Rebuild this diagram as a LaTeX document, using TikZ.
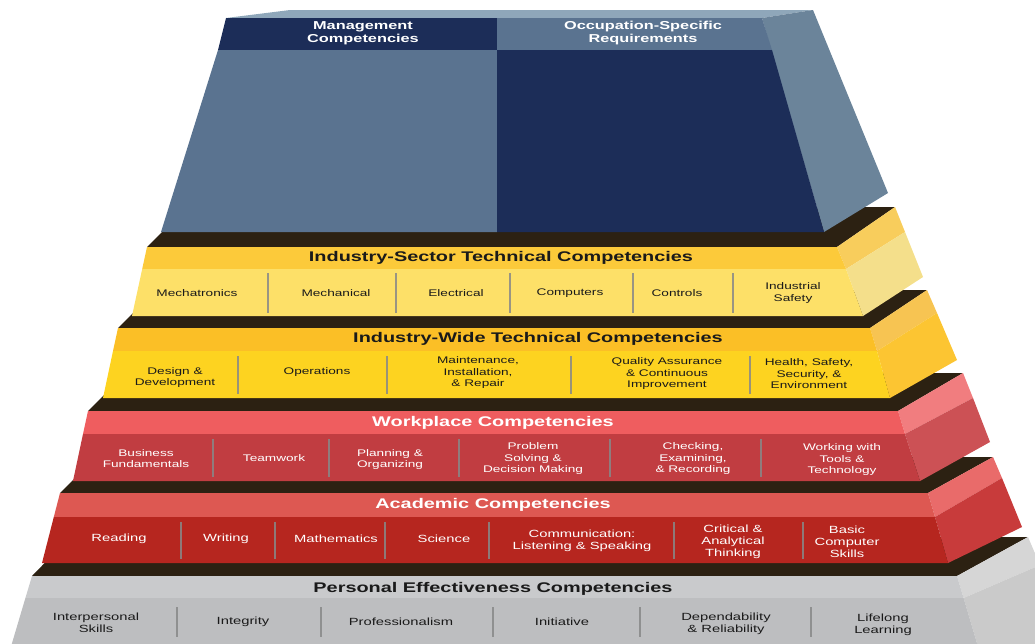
\documentclass[tikz,border=0pt]{standalone}
\usepackage{fontspec}
\newfontfamily\pyr{Liberation Sans}[FakeStretch=1.42]
\definecolor{bnavy}{HTML}{1C2D58}
\definecolor{bsteel}{HTML}{5A7390}
\definecolor{bside}{HTML}{6B849A}
\definecolor{btop}{HTML}{8FA7BA}
\definecolor{darkface}{HTML}{2C2112}
\definecolor{tAh}{HTML}{FCCA3A}\definecolor{tAc}{HTML}{FDE068}\definecolor{tAsu}{HTML}{F8CD5C}\definecolor{tAsl}{HTML}{F4DF8B}
\definecolor{tBh}{HTML}{FBBF26}\definecolor{tBc}{HTML}{FDD320}\definecolor{tBsu}{HTML}{F7C452}\definecolor{tBsl}{HTML}{FCC532}
\definecolor{tCh}{HTML}{EF5D5F}\definecolor{tCc}{HTML}{C13D41}\definecolor{tCsu}{HTML}{F17D7F}\definecolor{tCsl}{HTML}{CC5155}
\definecolor{tDh}{HTML}{DD5852}\definecolor{tDc}{HTML}{B6261F}\definecolor{tDsu}{HTML}{E96B6A}\definecolor{tDsl}{HTML}{C83B3B}
\definecolor{tEh}{HTML}{C9CACC}\definecolor{tEc}{HTML}{BDBEC0}\definecolor{tEsu}{HTML}{D6D6D6}\definecolor{tEsl}{HTML}{CACACA}
\definecolor{divc}{HTML}{888888}
\definecolor{txtdark}{HTML}{1A1A1A}
\begin{document}
\begin{tikzpicture}[x=1pt,y=-1pt,
  hdr/.style={font=\pyr\bfseries\fontsize{14}{16}\selectfont, inner sep=0},
  tophdr/.style={font=\pyr\bfseries\fontsize{11.5}{13}\selectfont, inner sep=0, align=center, text=white},
  itemA/.style={font=\pyr\fontsize{9.6}{11.5}\selectfont, align=center, inner sep=0},
  itemB/.style={font=\pyr\fontsize{10.4}{12.2}\selectfont, align=center, inner sep=0},
  divline/.style={draw=divc, opacity=0.85, line width=1.1pt}]
\useasboundingbox (0,0) rectangle (1035,643);
\clip (0,0) rectangle (1035,643);

% ---------- Tier 5: Personal Effectiveness (gray)
\fill[darkface] (32,576) -- (957,576) -- (1028,537) -- (70,537) -- cycle;
\fill[tEsu] (957,576) -- (1028,537) -- (1040,565) -- (963.6,598) -- cycle;
\fill[tEsl] (963.6,598) -- (1040,565) -- (1080,660) -- (982,660) -- cycle;
\fill[tEh] (32,576) -- (957,576) -- (963.6,598) -- (25.4,598) -- cycle;
\fill[tEc] (25.4,598) -- (963.6,598) -- (982,660) -- (7,660) -- cycle;
\foreach \x in {177,321,493,640,811} \draw[divline] (\x,607) -- (\x,637);
\node[hdr, text=txtdark] (hE) at (493,589) {Personal Effectiveness Competencies};
\node[itemB, text=txtdark] (e1) at (96,622.5) {Interpersonal\\Skills};
\node[itemB, text=txtdark] (e2) at (243,622) {Integrity};
\node[itemB, text=txtdark] (e3) at (401,622) {Professionalism};
\node[itemB, text=txtdark] (e4) at (562,622) {Initiative};
\node[itemB, text=txtdark] (e5) at (726,624) {Dependability\\\& Reliability};
\node[itemB, text=txtdark] (e6) at (883,625) {Lifelong\\Learning};

% ---------- Tier 4: Academic (dark red)
\fill[darkface] (60,493) -- (928,493) -- (993,457) -- (96,457) -- cycle;
\fill[tDsu] (928,493) -- (993,457) -- (1002,478) -- (935,517) -- cycle;
\fill[tDsl] (935,517) -- (1002,478) -- (1022,527) -- (948,563) -- cycle;
\fill[tDh] (60,493) -- (928,493) -- (935,517) -- (53.8,517) -- cycle;
\fill[tDc] (53.8,517) -- (935,517) -- (948,563) -- (42,563) -- cycle;
\foreach \x in {181,275,385,489,674,803} \draw[divline] (\x,522) -- (\x,559);
\node[hdr, text=white] (hD) at (493,505) {Academic Competencies};
\node[itemB, text=white] (d1) at (119,539) {Reading};
\node[itemB, text=white] (d2) at (226,539) {Writing};
\node[itemB, text=white] (d3) at (336,539) {Mathematics};
\node[itemB, text=white] (d4) at (444,539) {Science};
\node[itemB, text=white] (d5) at (582,541) {Communication:\\Listening \& Speaking};
\node[itemB, text=white] (d6) at (733,542) {Critical \&\\Analytical\\Thinking};
\node[itemB, text=white] (d7) at (847,542) {Basic\\Computer\\Skills};

% ---------- Tier 3: Workplace (red)
\fill[darkface] (88,411) -- (898,411) -- (963,373) -- (126,373) -- cycle;
\fill[tCsu] (898,411) -- (963,373) -- (973,398) -- (905,434) -- cycle;
\fill[tCsl] (905,434) -- (973,398) -- (990,442) -- (920,481) -- cycle;
\fill[tCh] (88,411) -- (898,411) -- (905,434) -- (83,434) -- cycle;
\fill[tCc] (83,434) -- (905,434) -- (920,481) -- (73,481) -- cycle;
\foreach \x in {213,329,459,610,761} \draw[divline] (\x,439) -- (\x,477);
\node[hdr, text=white] (hC) at (493,423) {Workplace Competencies};
\node[itemA, text=white] (c1) at (146,458.5) {Business\\Fundamentals};
\node[itemA, text=white] (c2) at (274,458) {Teamwork};
\node[itemA, text=white] (c3) at (390,459.5) {Planning \&\\Organizing};
\node[itemA, text=white] (c4) at (533,459) {Problem\\Solving \&\\Decision Making};
\node[itemA, text=white] (c5) at (693,459) {Checking,\\Examining,\\\& Recording};
\node[itemA, text=white] (c6) at (842,460) {Working with\\Tools \&\\Technology};

% ---------- Tier 2: Industry-Wide (yellow)
\fill[darkface] (118,328) -- (870,328) -- (927,290) -- (156,290) -- cycle;
\fill[tBsu] (870,328) -- (927,290) -- (937,313) -- (877,351) -- cycle;
\fill[tBsl] (877,351) -- (937,313) -- (957,360) -- (890,398) -- cycle;
\fill[tBh] (118,328) -- (870,328) -- (877,351) -- (113,351) -- cycle;
\fill[tBc] (113,351) -- (877,351) -- (890,398) -- (103,398) -- cycle;
\foreach \x in {238,387,571,750} \draw[divline] (\x,356) -- (\x,394);
\node[hdr, text=txtdark] (hB) at (538,339) {Industry-Wide Technical Competencies};
\node[itemA, text=txtdark] (b1) at (175,377.5) {Design \&\\Development};
\node[itemA, text=txtdark] (b2) at (317,372) {Operations};
\node[itemA, text=txtdark] (b3) at (478,373) {Maintenance,\\Installation,\\\& Repair};
\node[itemA, text=txtdark] (b4) at (667,374) {Quality Assurance\\\& Continuous\\Improvement};
\node[itemA, text=txtdark] (b5) at (809,374) {Health, Safety,\\Security, \&\\Environment};

% ---------- Tier 1: Industry-Sector (light yellow)
\fill[darkface] (147,247) -- (837,247) -- (895,207) -- (187,207) -- cycle;
\fill[tAsu] (837,247) -- (895,207) -- (905,232) -- (846,269) -- cycle;
\fill[tAsl] (846,269) -- (905,232) -- (923,277) -- (863,316) -- cycle;
\fill[tAh] (147,247) -- (837,247) -- (846,269) -- (142.2,269) -- cycle;
\fill[tAc] (142.2,269) -- (846,269) -- (863,316) -- (132,316) -- cycle;
\foreach \x in {268,396,510,633,733} \draw[divline] (\x,273) -- (\x,313);
\node[hdr, text=txtdark] (hA) at (501,258) {Industry-Sector Technical Competencies};
\node[itemA, text=txtdark] (a1) at (197,293) {Mechatronics};
\node[itemA, text=txtdark] (a2) at (336,293) {Mechanical};
\node[itemA, text=txtdark] (a3) at (456,293) {Electrical};
\node[itemA, text=txtdark] (a4) at (570,293) {Computers};
\node[itemA, text=txtdark] (a5) at (677,293) {Controls};
\node[itemA, text=txtdark] (a6) at (793,293) {Industrial\\Safety};

% ---------- Top block (blue)
\fill[btop] (226,18) -- (762,18) -- (813,10) -- (290,10) -- cycle;
\fill[bside] (762,18) -- (813,10) -- (888,193) -- (824,232) -- cycle;
\fill[bnavy] (226,18) -- (497,18) -- (497,50) -- (218,50) -- cycle;
\fill[bsteel] (218,50) -- (497,50) -- (497,232) -- (161,232) -- cycle;
\fill[bsteel] (497,18) -- (762,18) -- (772,50) -- (497,50) -- cycle;
\fill[bnavy] (497,50) -- (772,50) -- (824,232) -- (497,232) -- cycle;
\node[tophdr] (m) at (363,33.5) {Management\\Competencies};
\node[tophdr] (o) at (643,33.5) {Occupation-Specific\\Requirements};
\end{tikzpicture}
\end{document}
